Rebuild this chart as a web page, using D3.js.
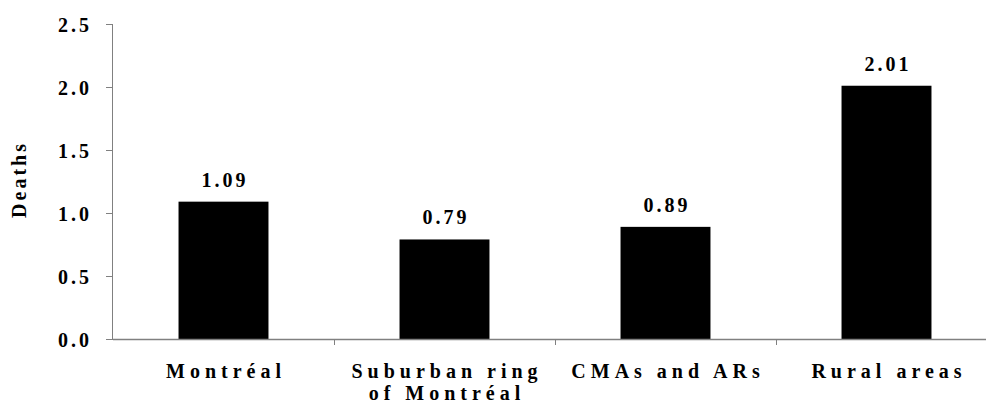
<!DOCTYPE html>
<html>
<head>
<meta charset="utf-8">
<script src="https://cdn.jsdelivr.net/npm/d3@7/dist/d3.min.js"></script>
<style>
  html, body { margin: 0; padding: 0; background: #fff; }
  svg { display: block; }
  text { font-family: "Liberation Serif", "Times New Roman", serif; font-weight: bold; fill: #000; }
</style>
</head>
<body>
<svg id="chart" width="986" height="409"></svg>
<script>
const categories = [["Montréal"], ["Suburban ring", "of Montréal"], ["CMAs and ARs"], ["Rural areas"]];
const categoryKeys = ["Montréal", "Suburban ring of Montréal", "CMAs and ARs", "Rural areas"];
const values = [1.09, 0.79, 0.89, 2.01];
const valueLabels = ["1.09", "0.79", "0.89", "2.01"];
const yTicks = [0, 0.5, 1.0, 1.5, 2.0, 2.5];
const yTitle = "Deaths";

(function () {
const svg = d3.select("#chart");
const pLeft = 113, pRight = 997, pTop = 24, pBottom = 339;
const axisColor = "#808080";

const x = d3.scaleBand().domain(categoryKeys).range([pLeft, pRight]).padding(0);
const y = d3.scaleLinear().domain([0, 2.5]).range([pBottom, pTop]);
const barW = x.bandwidth() * 0.407;

// bars
svg.selectAll("rect.bar").data(values).enter().append("rect")
  .attr("class", "bar")
  .attr("x", (d, i) => x(categoryKeys[i]) + x.bandwidth() / 2 - barW / 2)
  .attr("y", d => y(d))
  .attr("width", barW)
  .attr("height", d => y(0) - y(d))
  .attr("fill", "#000");

// value labels
svg.selectAll("text.val").data(values).enter().append("text")
  .attr("class", "val")
  .attr("x", (d, i) => x(categoryKeys[i]) + x.bandwidth() / 2 + 1.5)
  .attr("y", d => y(d) - 15)
  .attr("text-anchor", "middle")
  .style("font-size", "20px")
  .style("letter-spacing", "3px")
  .text((d, i) => valueLabels[i]);

// y axis
const yAxis = d3.axisLeft(y).tickValues(yTicks).tickSize(7).tickPadding(14)
  .tickFormat(d3.format(".1f"));
const yg = svg.append("g").attr("transform", `translate(${pLeft},0)`).call(yAxis);
yg.select(".domain").attr("stroke", axisColor).attr("d", `M-0.5,${pTop}V${pBottom}`);
yg.selectAll(".tick line").attr("stroke", axisColor);
yg.selectAll(".tick text")
  .attr("fill", "#000")
  .style("font-size", "20px")
  .style("font-family", "'Liberation Serif', serif")
  .style("font-weight", "bold")
  .style("letter-spacing", "3px")
  .attr("dy", "0.35em");

// x axis line
svg.append("line")
  .attr("x1", pLeft).attr("x2", 986)
  .attr("y1", pBottom + 0.5).attr("y2", pBottom + 0.5)
  .attr("stroke", axisColor).attr("stroke-width", 1.5);

// x ticks at category boundaries
svg.selectAll("line.xt").data(categoryKeys.slice(1)).enter().append("line")
  .attr("class", "xt")
  .attr("x1", d => Math.round(x(d)) + 0.5).attr("x2", d => Math.round(x(d)) + 0.5)
  .attr("y1", pBottom).attr("y2", pBottom + 6)
  .attr("stroke", axisColor);

// category labels
const cl = svg.selectAll("text.cat").data(categories).enter().append("text")
  .attr("class", "cat")
  .attr("text-anchor", "middle")
  .style("font-size", "20px")
  .style("letter-spacing", "5px");
cl.each(function(lines, i) {
  const cx = x(categoryKeys[i]) + x.bandwidth() / 2 + 2.5;
  d3.select(this).selectAll("tspan").data(lines).enter().append("tspan")
    .attr("x", cx)
    .attr("y", (d, j) => 378 + j * 22)
    .text(d => d);
});

// y title
svg.append("text")
  .attr("transform", `translate(26,${(pTop + pBottom) / 2 - 2}) rotate(-90)`)
  .attr("text-anchor", "middle")
  .style("font-size", "20px")
  .style("letter-spacing", "3px")
  .text(yTitle);
})();
</script>
</body>
</html>
